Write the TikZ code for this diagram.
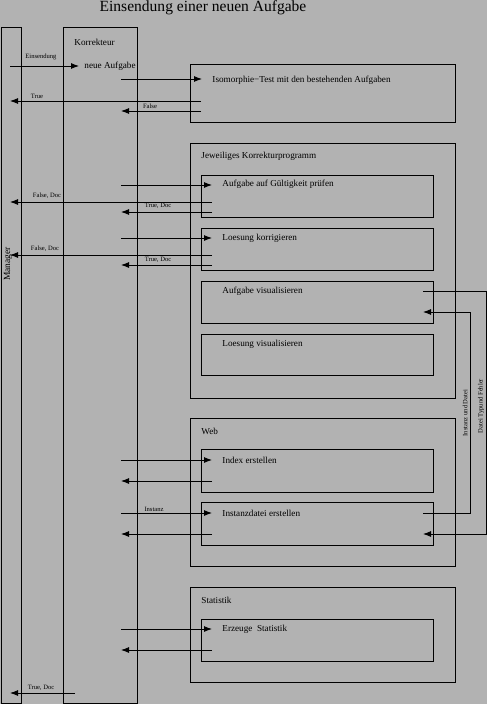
\documentclass[tikz,border=0pt]{standalone}
\usepackage{fontspec}
\setmainfont{Liberation Serif}
\usetikzlibrary{arrows.meta}
\definecolor{bgcol}{rgb}{0.70,0.70,0.70}
\tikzset{
  box/.style={draw, rectangle, anchor=north west, inner sep=0pt, outer sep=0pt},
  txt/.style={anchor=west, inner sep=0pt, font=\fontsize{9.2}{10}\selectfont},
  small/.style={inner sep=0pt, font=\fontsize{6.6}{7}\selectfont},
  msg/.style={-{Latex[length=8bp,width=6bp]}},
}
\begin{document}
\begin{tikzpicture}[x=1bp,y=-1bp,line width=0.9bp]
  \useasboundingbox[fill=bgcol] (0,0) rectangle (487,704);
%%
  % Node: title
  \node[inner sep=0pt, font=\fontsize{15.6}{16}\selectfont] (title) at (203,8) {Einsendung einer neuen Aufgabe};
  % Node: lanes
  \node[box, minimum width=20bp, minimum height=676bp] (manager) at (1,27) {};
  \node[box, minimum width=74bp, minimum height=676bp] (korrekteur) at (63,27) {};
  \node[inner sep=0pt, rotate=90, font=\fontsize{9.5}{10}\selectfont] (manager-label) at (8,264) {Manager};
  \node[txt] (korrekteur-label) at (74,42) {Korrekteur};
  \node[txt] (neu) at (84,66) {neue Aufgabe};
  % Node: iso
  \node[box, minimum width=265bp, minimum height=58bp] (iso) at (190,64) {};
  \node[txt] (iso-label) at (212,80) {Isomorphie−Test mit den bestehenden Aufgaben};
  % Node: kp
  \node[box, minimum width=265bp, minimum height=255bp] (kp) at (190,143) {};
  \node[txt] (kp-label) at (201,156) {Jeweiliges Korrekturprogramm};
  \node[box, minimum width=232bp, minimum height=42bp] (gueltig) at (201,175) {};
  \node[txt] (gueltig-label) at (222,184) {Aufgabe auf Gültigkeit prüfen};
  \node[box, minimum width=232bp, minimum height=42bp] (korr) at (201,228) {};
  \node[txt] (korr-label) at (222,238) {Loesung korrigieren};
  \node[box, minimum width=232bp, minimum height=42bp] (avis) at (201,281) {};
  \node[txt] (avis-label) at (222,291) {Aufgabe visualisieren};
  \node[box, minimum width=232bp, minimum height=41bp] (lvis) at (201,334) {};
  \node[txt] (lvis-label) at (222,344) {Loesung visualisieren};
  % Node: web
  \node[box, minimum width=265bp, minimum height=148bp] (web) at (190,418) {};
  \node[txt] (web-label) at (201,431) {Web};
  \node[box, minimum width=232bp, minimum height=43bp] (index) at (201,449) {};
  \node[txt] (index-label) at (222,460) {Index erstellen};
  \node[box, minimum width=232bp, minimum height=43bp] (inst) at (201,502) {};
  \node[txt] (inst-label) at (222,513) {Instanzdatei erstellen};
  % Node: stat
  \node[box, minimum width=265bp, minimum height=95bp] (stat) at (190,587) {};
  \node[txt] (stat-label) at (201,600) {Statistik};
  \node[box, minimum width=232bp, minimum height=42bp] (erz) at (201,619) {};
  \node[txt] (erz-label) at (222,629) {Erzeuge\ \ Statistik};
%%
  \coordinate (mx) at (10,0);
  \coordinate (kx) at (121,0);
  % Edge: manager -> korrekteur
  \draw[msg] (mx |- neu.west) -- ([xshift=-5bp]neu.west);
  \node[small] (l-einsendung) at (41,57) {Einsendung};
  % Edge: korrekteur -> iso
  \coordinate (iso-in) at (202,79);
  \coordinate (iso-true) at (201,101);
  \coordinate (iso-false) at (201,111);
  \draw[msg] (kx |- iso-in) -- (iso-in);
  \draw[msg] (iso-true) -- (mx |- iso-true);
  \node[small] (l-true) at (37,96) {True};
  \draw[msg] (iso-false) -- (kx |- iso-false);
  \node[small] (l-false) at (150,106) {False};
  % Edge: korrekteur -> gueltig
  \coordinate (gueltig-in) at (212,185);
  \coordinate (gueltig-f) at (212,202);
  \coordinate (gueltig-t) at (212,212);
  \draw[msg] (kx |- gueltig-in) -- (gueltig-in);
  \draw[msg] (gueltig-f) -- (mx |- gueltig-f);
  \node[small] (l-fd1) at (47,196) {False, Doc};
  \draw[msg] (gueltig-t) -- (kx |- gueltig-t);
  \node[small] (l-td1) at (158,206) {True, Doc};
  % Edge: korrekteur -> korr
  \coordinate (korr-in) at (212,238);
  \coordinate (korr-f) at (212,255);
  \coordinate (korr-t) at (212,265);
  \draw[msg] (kx |- korr-in) -- (korr-in);
  \draw[msg] (korr-f) -- (mx |- korr-f);
  \node[small] (l-fd2) at (45,249) {False, Doc};
  \draw[msg] (korr-t) -- (kx |- korr-t);
  \node[small] (l-td2) at (158,260) {True, Doc};
  % Edge: korrekteur -> index
  \coordinate (index-in) at (212,460);
  \coordinate (index-out) at (212,481);
  \draw[msg] (kx |- index-in) -- (index-in);
  \draw[msg] (index-out) -- (kx |- index-out);
  % Edge: korrekteur -> inst
  \coordinate (inst-in) at (212,513);
  \coordinate (inst-out) at (212,534);
  \draw[msg] (kx |- inst-in) -- (inst-in);
  \node[small] (l-instanz) at (154,509) {Instanz};
  \draw[msg] (inst-out) -- (kx |- inst-out);
  % Edge: korrekteur -> erz
  \coordinate (erz-in) at (212,629);
  \coordinate (erz-out) at (212,650);
  \draw[msg] (kx |- erz-in) -- (erz-in);
  \draw[msg] (erz-out) -- (kx |- erz-out);
  % Edge: korrekteur -> manager
  \coordinate (k-done) at (75,693);
  \draw[msg] (k-done) -- (mx |- k-done);
  \node[small] (l-td3) at (41,688) {True, Doc};
  % Edge: inst -> avis
  \coordinate (inst-r) at (423,513);
  \coordinate (avis-in) at (423,312);
  \draw[msg] (inst-r) -- (470,513) -- (470,312) -- (avis-in);
  \node[small, rotate=90] (l-instdatei) at (465,413) {Instanz und Datei};
  % Edge: avis -> inst
  \coordinate (avis-r) at (423,291);
  \coordinate (inst-in2) at (423,534);
  \draw[msg] (avis-r) -- (486,291) -- (486,534) -- (inst-in2);
  \node[small, rotate=90] (l-typ) at (481,406) {Datei Typund Fehler};
%
\end{tikzpicture}
\end{document}
